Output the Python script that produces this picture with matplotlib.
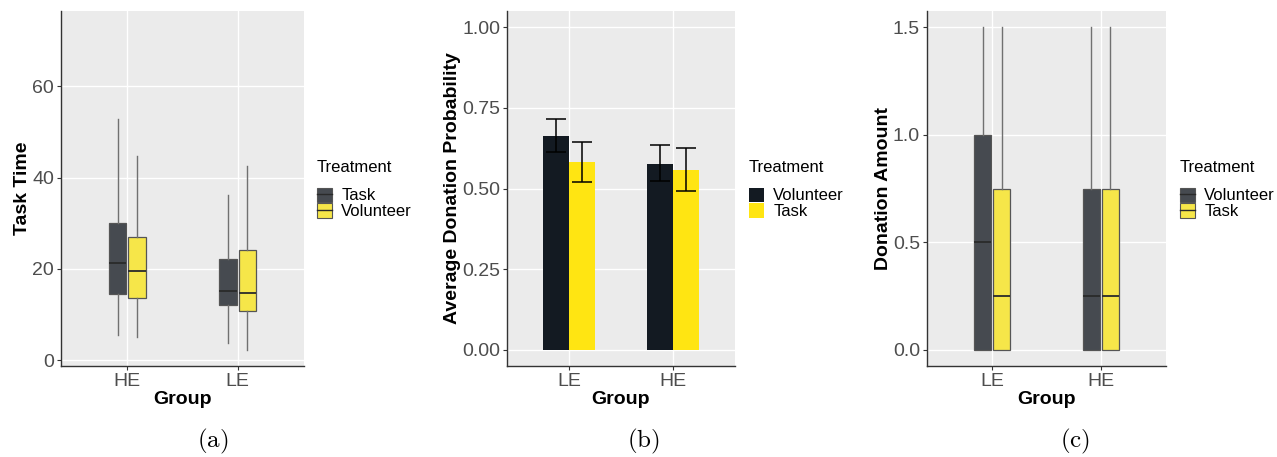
import numpy as np
import matplotlib.pyplot as plt
from matplotlib.patches import Patch
from matplotlib.lines import Line2D

plt.rcParams['font.family'] = ['Liberation Sans', 'DejaVu Sans']
plt.rcParams['mathtext.fontset'] = 'cm'

# (a) task time box plots
groups_a = ["HE", "LE"]
treat_a = ["Task", "Volunteer"]
# [whislo, q1, med, q3, whishi] per group
time_task = [[5.5, 14.5, 21.2, 30.1, 52.9], [3.7, 12.1, 15.2, 22.2, 36.1]]
time_vol = [[5.1, 13.7, 19.6, 26.9, 44.7], [2.2, 10.7, 14.7, 24.2, 42.6]]

# (b) average donation probability
groups_b = ["LE", "HE"]
treat_b = ["Volunteer", "Task"]
prob_vol = [0.663, 0.577]
prob_vol_lo = [0.612, 0.522]
prob_vol_hi = [0.715, 0.634]
prob_task = [0.582, 0.558]
prob_task_lo = [0.519, 0.493]
prob_task_hi = [0.644, 0.625]

# (c) donation amount box plots
groups_c = ["LE", "HE"]
treat_c = ["Volunteer", "Task"]
amt_vol = [[0.0, 0.0, 0.5, 1.0, 1.5], [0.0, 0.0, 0.25, 0.75, 1.5]]
amt_task = [[0.0, 0.0, 0.25, 0.75, 1.5], [0.0, 0.0, 0.25, 0.75, 1.5]]

DARK_BOX = '#464a50'
YEL_BOX = '#f6e649'
DARK_BAR = '#131a22'
YEL_BAR = '#ffe512'
PANEL = '#ebebeb'
W, H = 1277, 457


def style_axes(ax):
    ax.set_facecolor(PANEL)
    ax.grid(True, color='white', linewidth=1.0)
    ax.set_axisbelow(True)
    for s in ['top', 'right']:
        ax.spines[s].set_visible(False)
    for s in ['left', 'bottom']:
        ax.spines[s].set_color('#333333')
        ax.spines[s].set_linewidth(1.0)
    ax.tick_params(length=3, color='#333333', labelcolor='#4d4d4d',
                   labelsize=14, pad=2)


def make_ax(left, right):
    return fig.add_axes([left / W, (H - 366) / H, (right - left) / W, 355 / H])


def boxes(ax, data, offset, color):
    stats = [dict(whislo=d[0], q1=d[1], med=d[2], q3=d[3], whishi=d[4], fliers=[])
             for d in data]
    pos = np.arange(len(data)) + 1 + offset
    ax.bxp(stats, positions=pos, widths=0.16, showcaps=False, patch_artist=True,
           boxprops=dict(facecolor=color, edgecolor='#555555', linewidth=0.9),
           whiskerprops=dict(color='#707070', linewidth=1.0),
           medianprops=dict(color='#2a2a2a', linewidth=1.3), manage_ticks=False)


def box_handles(colors):
    return [(Patch(facecolor=c, edgecolor='#555555', linewidth=0.8),
             Line2D([], [], color='#2a2a2a', linewidth=1.0)) for c in colors]


def add_legend(ax, handles, labels, x):
    leg = ax.legend(handles, labels, title='Treatment', loc='upper left',
                    bbox_to_anchor=(x / W, 1 - 160 / H),
                    bbox_transform=fig.transFigure,
                    frameon=False, fontsize=12, title_fontsize=12,
                    alignment='left', handlelength=0.9, handleheight=0.95,
                    handletextpad=0.55, labelspacing=0.0, borderpad=0,
                    borderaxespad=0)
    leg._legend_box.sep = 9


def labels(ax, ylab):
    ax.set_xlabel('Group', fontsize=14, fontweight='bold', labelpad=1)
    ax.set_ylabel(ylab, fontsize=14, fontweight='bold', labelpad=1)


fig = plt.figure(figsize=(W / 100, H / 100), dpi=100)

# panel (a)
ax1 = make_ax(61, 304)
style_axes(ax1)
boxes(ax1, time_task, -0.088, DARK_BOX)
boxes(ax1, time_vol, 0.088, YEL_BOX)
ax1.set_xlim(0.4, 2.6)
ax1.set_ylim(-1.3, 76.5)
ax1.set_xticks([1, 2], groups_a)
ax1.set_yticks([0, 20, 40, 60])
labels(ax1, 'Task Time')
add_legend(ax1, box_handles([DARK_BOX, YEL_BOX]), treat_a, 317)

# panel (b)
ax2 = make_ax(507, 735)
style_axes(ax2)
xb = np.arange(len(groups_b)) + 1
ax2.bar(xb - 0.125, prob_vol, width=0.25, color=DARK_BAR, label=treat_b[0])
ax2.bar(xb + 0.125, prob_task, width=0.25, color=YEL_BAR, label=treat_b[1])
for off, val, lo, hi in [(-0.125, prob_vol, prob_vol_lo, prob_vol_hi),
                         (0.125, prob_task, prob_task_lo, prob_task_hi)]:
    val = np.array(val)
    err = [val - np.array(lo), np.array(hi) - val]
    ax2.errorbar(xb + off, val, yerr=err, fmt='none', ecolor='black',
                 elinewidth=1.1, capsize=7, capthick=1.1)
ax2.set_xlim(0.4, 2.6)
ax2.set_ylim(-0.05, 1.05)
ax2.set_xticks([1, 2], groups_b)
ax2.set_yticks([0, 0.25, 0.5, 0.75, 1.0], ['0.00', '0.25', '0.50', '0.75', '1.00'])
labels(ax2, 'Average Donation Probability')
add_legend(ax2, [Patch(facecolor=DARK_BAR), Patch(facecolor=YEL_BAR)], treat_b, 749)

# panel (c)
ax3 = make_ax(927, 1166)
style_axes(ax3)
boxes(ax3, amt_vol, -0.088, DARK_BOX)
boxes(ax3, amt_task, 0.088, YEL_BOX)
ax3.set_xlim(0.4, 2.6)
ax3.set_ylim(-0.075, 1.575)
ax3.set_xticks([1, 2], groups_c)
ax3.set_yticks([0, 0.5, 1.0, 1.5])
labels(ax3, 'Donation Amount')
add_legend(ax3, box_handles([DARK_BOX, YEL_BOX]), treat_c, 1180)

for x, lab in [(213, '(a)'), (643, '(b)'), (1075, '(c)')]:
    fig.text(x / W, 1 - 441 / H, r'$\mathrm{' + lab + '}$', fontsize=18,
             ha='center', va='center')

fig.savefig('out.png', dpi=100)
